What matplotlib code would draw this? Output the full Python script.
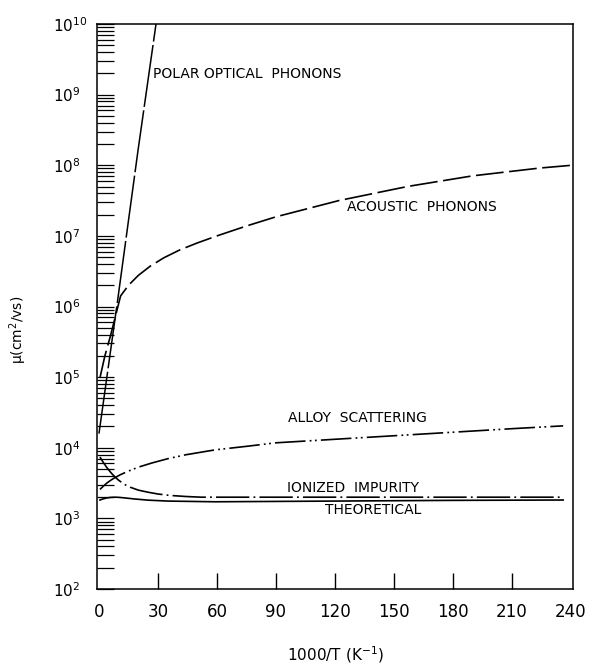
import matplotlib
matplotlib.use('Agg')
import matplotlib.pyplot as plt
from matplotlib.ticker import LogLocator, NullFormatter

plt.rcParams['lines.scale_dashes'] = False
plt.rcParams['mathtext.default'] = 'regular'
plt.rcParams['font.family'] = ['DejaVu Sans']

# ---- data (x = 1000/T in K^-1, values are log10 of mobility) ----
x_ticks = [0, 30, 60, 90, 120, 150, 180, 210, 240]
y_decades = [2, 3, 4, 5, 6, 7, 8, 9, 10]

polar_x = [0.0, 9.7, 19.8, 29.0]
polar_log = [4.2, 6.13, 8.2, 10.0]

acoustic_x = [0.5, 3, 6, 11, 15, 20, 26, 33, 41, 50, 60, 75, 90, 122, 157, 190, 224, 240.5]
acoustic_log = [4.99, 5.3, 5.6, 6.15, 6.30, 6.44, 6.57, 6.69, 6.80, 6.90, 7.00, 7.14,
                7.27, 7.50, 7.70, 7.85, 7.96, 8.00]

alloy_x = [0.5, 2, 4, 6, 8, 11, 15, 20, 27, 35, 44, 59, 75, 90, 120, 150, 180, 210, 236]
alloy_log = [3.41, 3.45, 3.50, 3.54, 3.575, 3.62, 3.67, 3.725, 3.785, 3.845, 3.90, 3.97,
             4.02, 4.07, 4.12, 4.17, 4.22, 4.27, 4.31]

ionized_x = [0.5, 2, 4, 6, 8, 10, 13, 16, 20, 25, 30, 36, 44, 52, 60, 100, 150, 200, 236]
ionized_log = [3.87, 3.80, 3.72, 3.65, 3.59, 3.54, 3.48, 3.44, 3.40, 3.37, 3.345, 3.325,
               3.31, 3.30, 3.30, 3.30, 3.30, 3.30, 3.30]

theory_x = [0.5, 2, 4, 6, 8, 10, 13, 18, 25, 35, 59, 120, 180, 236]
theory_log = [3.26, 3.275, 3.29, 3.297, 3.30, 3.298, 3.29, 3.275, 3.258, 3.245, 3.235,
              3.245, 3.255, 3.26]

labels = ['POLAR OPTICAL  PHONONS', 'ACOUSTIC  PHONONS', 'ALLOY  SCATTERING',
          'IONIZED  IMPURITY', 'THEORETICAL']
label_x = [27.5, 126.0, 96.0, 95.5, 115.0]
label_log = [9.29, 7.41, 4.42, 3.43, 3.12]

# ---- figure ----
W, H = 594, 671
fig = plt.figure(figsize=(W / 100, H / 100), dpi=100)
ax = fig.add_axes([97 / W, 1 - 589 / H, (573 - 97) / W, (589 - 24) / H])
ax.set_yscale('log')

def mu(vals):
    return [10.0 ** v for v in vals]

lw = 1.2
ax.plot(polar_x, mu(polar_log), color='black', lw=1.1, dashes=(45, 2.5))
ax.plot(acoustic_x, mu(acoustic_log), color='black', lw=lw, dashes=(20, 4))
ax.plot(alloy_x, mu(alloy_log), color='black', lw=lw, dashes=(22, 3, 1.3, 2.5, 1.3, 3))
ax.plot(ionized_x, mu(ionized_log), color='black', lw=lw, dashes=(24, 3, 1.3, 3))
ax.plot(theory_x, mu(theory_log), color='black', lw=lw)

for t, lx, ly in zip(labels, label_x, label_log):
    ax.text(lx, 10.0 ** ly, t, fontsize=10, ha='left', va='center', color='black')

ax.set_xlim(-1, 241)
ax.set_ylim(1e2, 1e10)

ax.set_xticks(x_ticks, [str(v) for v in x_ticks])
ax.tick_params(axis='x', direction='in', length=11.5, width=1, pad=10, labelsize=12)
xt = ax.xaxis.get_major_ticks()
xt[0].tick1line.set_visible(False)
xt[-1].tick1line.set_visible(False)

ax.set_yticks([10.0 ** k for k in y_decades],
              ['$10^{%d}$' % k for k in y_decades], ha='left')
ax.yaxis.set_minor_locator(LogLocator(base=10, subs=range(2, 10), numticks=30))
ax.yaxis.set_minor_formatter(NullFormatter())
ax.tick_params(axis='y', which='both', direction='in', length=12.5, width=0.9)
ax.tick_params(axis='y', which='major', pad=32, labelsize=11)
ax.tick_params(top=False, right=False)

for s in ax.spines.values():
    s.set_linewidth(1.1)

fig.text(18 / W, 1 - 330 / H, r'$\mu$(cm$^2$/vs)', rotation=90,
         ha='center', va='center', fontsize=10)
fig.text(335 / W, 1 - 655 / H, '1000/T (K$^{-1}$)', ha='center', va='center',
         fontsize=11)

fig.savefig('out.png', dpi=100)
